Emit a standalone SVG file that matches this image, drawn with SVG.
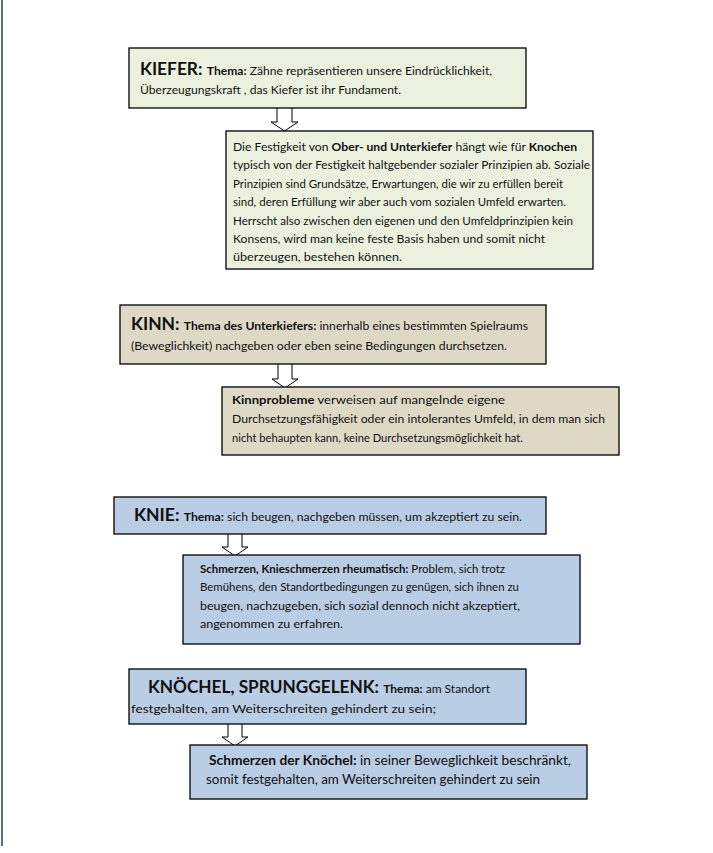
<svg xmlns="http://www.w3.org/2000/svg" width="713" height="853" viewBox="0 0 713 853">
<style>
text{font-family:Lato,"Open Sans","Liberation Sans",sans-serif;font-size:11.5px;fill:#111}
.b{font-weight:bold}
.h{font-weight:bold;font-size:16.5px}
.box{stroke:#000;stroke-width:1.3}
.g{fill:#ebf1de}
.t{fill:#ddd9c4}
.bl{fill:#b9cde5}
.arr{fill:#fff;stroke:#000;stroke-width:1}
</style>
<rect width="713" height="853" fill="#fff"/>
<line x1="2" y1="0" x2="2" y2="846" stroke="#5f6f86" stroke-width="2"/>

<g id="connectors">
<path class="arr" d="M277,108 V122 H271 L284.5,131 L298,122 H292 V108"/>
<path class="arr" d="M278,364 V379 H272 L285,388 L298,379 H292 V364"/>
<path class="arr" d="M228,534 V547 H222 L235,556 L248,547 H242 V534"/>
<path class="arr" d="M228,724 V737 H222 L235,746 L248,737 H242 V724"/>
</g>

<g id="kiefer">
<rect class="box g" x="129" y="48" width="397" height="60"/>
<text x="140" y="75" textLength="352" lengthAdjust="spacingAndGlyphs"><tspan class="h">KIEFER: </tspan><tspan class="b">Thema:</tspan> Zähne repräsentieren unsere Eindrücklichkeit,</text>
<text x="140" y="94" textLength="261" lengthAdjust="spacingAndGlyphs">Überzeugungskraft , das Kiefer ist ihr Fundament.</text>
</g>

<g id="kiefer-detail">
<rect class="box g" x="226" y="131" width="367" height="138"/>
<text x="233" y="151" textLength="344" lengthAdjust="spacingAndGlyphs">Die Festigkeit von <tspan class="b">Ober- und Unterkiefer</tspan> hängt wie für <tspan class="b">Knochen</tspan></text>
<text x="233" y="169" textLength="357" lengthAdjust="spacingAndGlyphs">typisch von der Festigkeit haltgebender sozialer Prinzipien ab.  Soziale</text>
<text x="233" y="188" textLength="330" lengthAdjust="spacingAndGlyphs">Prinzipien sind Grundsätze, Erwartungen,  die wir zu erfüllen bereit</text>
<text x="233" y="206" textLength="333" lengthAdjust="spacingAndGlyphs">sind, deren Erfüllung wir aber auch vom sozialen Umfeld  erwarten.</text>
<text x="233" y="225" textLength="340" lengthAdjust="spacingAndGlyphs">Herrscht also zwischen den eigenen und den Umfeldprinzipien kein</text>
<text x="233" y="243" textLength="312" lengthAdjust="spacingAndGlyphs">Konsens, wird man keine feste Basis haben und somit nicht</text>
<text x="233" y="261" textLength="169" lengthAdjust="spacingAndGlyphs">überzeugen, bestehen können.</text>
</g>

<g id="kinn">
<rect class="box t" x="120" y="305" width="426" height="59"/>
<text x="131" y="330" textLength="397" lengthAdjust="spacingAndGlyphs"><tspan class="h">KINN: </tspan><tspan class="b">Thema des Unterkiefers:</tspan> innerhalb eines bestimmten Spielraums</text>
<text x="131" y="350" textLength="376" lengthAdjust="spacingAndGlyphs">(Beweglichkeit) nachgeben oder eben seine Bedingungen durchsetzen.</text>
</g>

<g id="kinn-detail">
<rect class="box t" x="222" y="387" width="397" height="68"/>
<text x="232" y="404" textLength="273" lengthAdjust="spacingAndGlyphs"><tspan class="b">Kinnprobleme</tspan> verweisen auf mangelnde eigene</text>
<text x="232" y="423" textLength="373" lengthAdjust="spacingAndGlyphs">Durchsetzungsfähigkeit oder ein intolerantes Umfeld,  in dem man sich</text>
<text x="232" y="442" textLength="291" lengthAdjust="spacingAndGlyphs">nicht behaupten kann, keine Durchsetzungsmöglichkeit hat.</text>
</g>

<g id="knie">
<rect class="box bl" x="114" y="497" width="432" height="37"/>
<text x="134" y="521" textLength="388" lengthAdjust="spacingAndGlyphs"><tspan class="h">KNIE: </tspan><tspan class="b">Thema:</tspan> sich beugen, nachgeben müssen, um akzeptiert zu sein.</text>
</g>

<g id="knie-detail">
<rect class="box bl" x="183" y="555" width="397" height="89"/>
<text x="200" y="573" textLength="305" lengthAdjust="spacingAndGlyphs"><tspan class="b">Schmerzen, Knieschmerzen rheumatisch:</tspan> Problem,  sich trotz</text>
<text x="200" y="591" textLength="319" lengthAdjust="spacingAndGlyphs">Bemühens, den Standortbedingungen zu genügen, sich ihnen zu</text>
<text x="200" y="610" textLength="320" lengthAdjust="spacingAndGlyphs">beugen, nachzugeben, sich sozial dennoch nicht akzeptiert,</text>
<text x="200" y="628" textLength="143" lengthAdjust="spacingAndGlyphs">angenommen zu erfahren.</text>
</g>

<g id="knoechel">
<rect class="box bl" x="129" y="669" width="397" height="55"/>
<text x="148" y="693" textLength="342" lengthAdjust="spacingAndGlyphs"><tspan class="h">KNÖCHEL, SPRUNGGELENK: </tspan><tspan class="b">Thema:</tspan>   am  Standort</text>
<text x="131" y="713" textLength="305" lengthAdjust="spacingAndGlyphs">festgehalten, am Weiterschreiten gehindert zu sein;</text>
</g>

<g id="knoechel-detail">
<rect class="box bl" x="190" y="745" width="397" height="54"/>
<text x="209" y="765" textLength="362" lengthAdjust="spacingAndGlyphs" style="font-size:12.5px"><tspan class="b">Schmerzen der Knöchel:</tspan> in seiner Beweglichkeit  beschränkt,</text>
<text x="206" y="784" textLength="334" lengthAdjust="spacingAndGlyphs" style="font-size:12.5px">somit festgehalten,  am Weiterschreiten  gehindert  zu sein</text>
</g>
</svg>
